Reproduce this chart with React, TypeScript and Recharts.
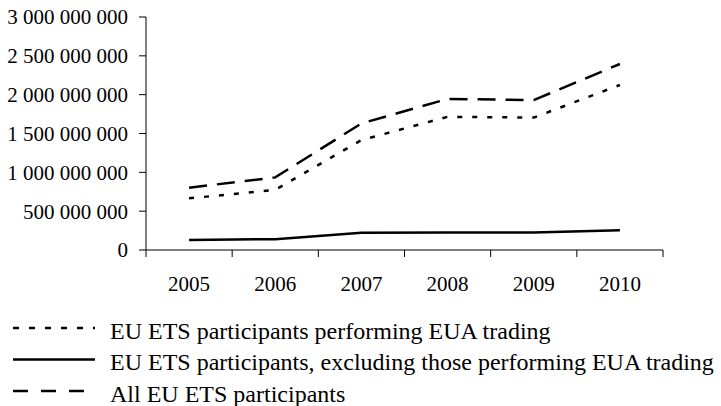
import React from "react";
import { LineChart, Line, XAxis, YAxis } from "recharts";

const years = ["2005", "2006", "2007", "2008", "2009", "2010"];
const tradingParticipants = [665000000, 775000000, 1415000000, 1715000000, 1705000000, 2125000000];
const nonTradingParticipants = [130000000, 140000000, 222000000, 226000000, 224000000, 255000000];
const allParticipants = [802000000, 935000000, 1630000000, 1945000000, 1930000000, 2395000000];
const yTicks = [0, 500000000, 1000000000, 1500000000, 2000000000, 2500000000, 3000000000];

const seriesNames = [
  "EU ETS participants performing EUA trading",
  "EU ETS participants, excluding those performing EUA trading",
  "All EU ETS participants",
];

const data = years.map((y, i) => ({
  year: y,
  trading: tradingParticipants[i],
  nonTrading: nonTradingParticipants[i],
  all: allParticipants[i],
}));

const FONT = "Liberation Serif";
const W = 721;
const H = 406;
const M = { top: 17, right: 58, bottom: 116, left: 0 };
const Y_AXIS_W = 146;
const PLOT_W = W - M.left - M.right - Y_AXIS_W;
const BAND = PLOT_W / years.length;

const fmt = (v: number) => {
  if (v === 0) return "0";
  return String(v).replace(/\B(?=(\d{3})+(?!\d))/g, " ");
};

const XTick = (props: any) => {
  const { x, y, payload, index } = props;
  const half = BAND / 2;
  return (
    <g>
      <line x1={x - half} y1={y} x2={x - half} y2={y + 7} stroke="#000" strokeWidth={1} />
      {index === years.length - 1 && (
        <line x1={x + half} y1={y} x2={x + half} y2={y + 7} stroke="#000" strokeWidth={1} />
      )}
      <text x={x} y={y + 41} textAnchor="middle" fill="#000" fontSize={21} style={{ fontFamily: FONT }}>
        {payload.value}
      </text>
    </g>
  );
};

const legendDash = ["6 10", undefined, "15 13"];

export default function App() {
  return (
    <div style={{ position: "absolute", left: 0, top: 0, width: W, height: H, background: "#fff", fontFamily: FONT }}>
      <LineChart width={W} height={H} data={data} margin={M} style={{ fontFamily: FONT }}>
        <XAxis
          dataKey="year"
          axisLine={{ stroke: "#000", strokeWidth: 1 }}
          tickLine={false}
          tickSize={0}
          tickMargin={0}
          height={40}
          interval={0}
          padding={{ left: BAND / 2, right: BAND / 2 }}
          tick={(p: any) => <XTick {...p} />}
        />
        <YAxis
          width={Y_AXIS_W}
          domain={[0, 3000000000]}
          ticks={yTicks}
          interval={0}
          tickFormatter={fmt}
          axisLine={{ stroke: "#000", strokeWidth: 1 }}
          tickLine={{ stroke: "#000", strokeWidth: 1 }}
          tickSize={7}
          tickMargin={11}
          tick={{ fill: "#000", fontSize: 21, fontFamily: FONT }}
        />
        <Line
          dataKey="trading"
          stroke="#000"
          strokeWidth={2.5}
          strokeDasharray="5 10"
          dot={false}
          isAnimationActive={false}
          type="linear"
        />
        <Line
          dataKey="nonTrading"
          stroke="#000"
          strokeWidth={2.5}
          dot={false}
          isAnimationActive={false}
          type="linear"
        />
        <Line
          dataKey="all"
          stroke="#000"
          strokeWidth={2.5}
          strokeDasharray="18 10"
          dot={false}
          isAnimationActive={false}
          type="linear"
        />
      </LineChart>
      <svg
        width={W}
        height={96}
        style={{ position: "absolute", left: 0, top: 310 }}
      >
        {seriesNames.map((name, i) => {
          const cy = 18 + i * 31.5;
          return (
            <g key={name}>
              <line
                x1={13}
                x2={95}
                y1={cy}
                y2={cy}
                stroke="#000"
                strokeWidth={2.5}
                strokeDasharray={legendDash[i]}
              />
              <text x={110} y={cy + 10.5} fill="#000" fontSize={24} style={{ fontFamily: FONT }}>
                {name}
              </text>
            </g>
          );
        })}
      </svg>
    </div>
  );
}
